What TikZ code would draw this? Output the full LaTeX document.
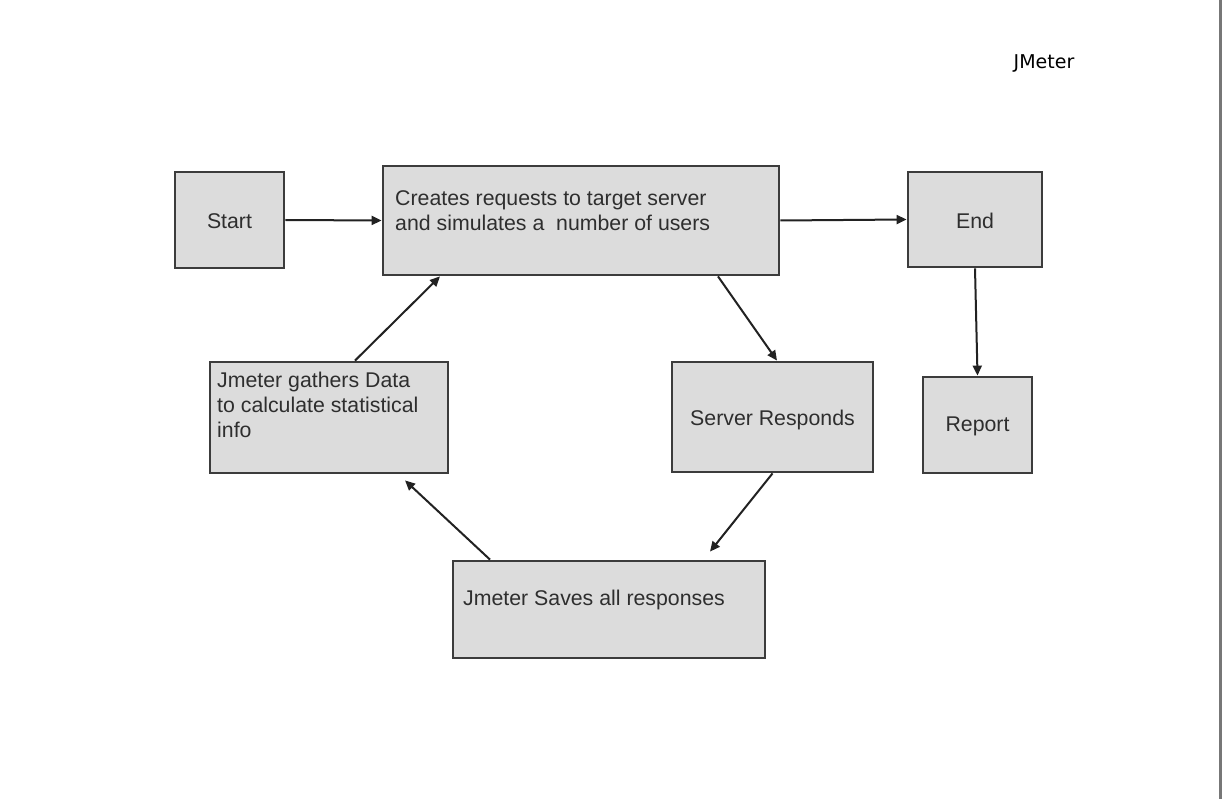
\documentclass[tikz,border=0pt]{standalone}
\usepackage{fontspec}
\setmainfont{Liberation Sans}
\newfontfamily\titlefont{DejaVu Sans}
\usetikzlibrary{arrows.meta}
\definecolor{boxfill}{HTML}{DCDCDC}
\definecolor{boxline}{HTML}{3C3C3C}
\definecolor{txtcol}{HTML}{2E2E2E}
\definecolor{arrcol}{HTML}{222222}
\definecolor{framecol}{HTML}{777777}
\tikzset{
  box/.style={rectangle, draw=boxline, fill=boxfill, line width=2.8pt, inner sep=0pt},
  txt/.style={font=\fontsize{21.3}{25}\selectfont, text=txtcol, inner sep=0pt, align=left},
  arr/.style={draw=arrcol, line width=2pt, -{Triangle[length=10pt,width=9pt]}}
}
\begin{document}
\begin{tikzpicture}[x=1pt,y=-1pt]
\useasboundingbox (0,0) rectangle (1222,799);
\fill[white] (0,0) rectangle (1222,799);
\draw[framecol, line width=2.5pt] (1220.5,0) -- (1220.5,799);
% title
\node[font=\titlefont\fontsize{19}{22}\selectfont, text=black, inner sep=0pt] (title) at (1044,63.5) {JMeter};
% boxes
\node[box, minimum width=109pt, minimum height=96pt] (start) at (229.5,220) {};
\node[box, minimum width=396pt, minimum height=109pt] (creates) at (581,220.5) {};
\node[box, minimum width=134pt, minimum height=95pt] (end) at (975,219.5) {};
\node[box, minimum width=238pt, minimum height=111pt] (gathers) at (329,417.5) {};
\node[box, minimum width=201pt, minimum height=110pt] (server) at (772.5,417) {};
\node[box, minimum width=109pt, minimum height=96pt] (report) at (977.5,425) {};
\node[box, minimum width=312pt, minimum height=97pt] (saves) at (609,609.5) {};
% texts
\node[txt] (tstart) at (229.5,221) {Start};
\node[txt] (tend) at (975,221) {End};
\node[txt] (treport) at (977.5,426) {Report};
\node[txt] (tserver) at (772.5,419.5) {Server Responds};
\node[txt, anchor=north west] (tcreates) at (395,190) {Creates requests to target server\\and simulates a\ \ number of users};
\node[txt, anchor=north west] (tgathers) at (217,372) {Jmeter gathers Data\\to calculate statistical\\info};
\node[txt, anchor=west] (tsaves) at (463,600) {Jmeter Saves all responses};
% connectors
\draw[arr] (start.east) -- (creates.west);
\draw[arr] (creates.east) -- (end.west);
\draw[arr] ([xshift=137pt]creates.south) -- ([xshift=4.5pt]server.north);
\draw[arr] (end.south) -- (report.north);
\draw[arr] (server.south) -- ([xshift=101pt,yshift=8pt]saves.north);
\draw[arr] ([xshift=-119pt]saves.north) -- ([xshift=76pt,yshift=-6pt]gathers.south);
\draw[arr] ([xshift=26pt]gathers.north) -- ([xshift=-141pt]creates.south);
\end{tikzpicture}
\end{document}
